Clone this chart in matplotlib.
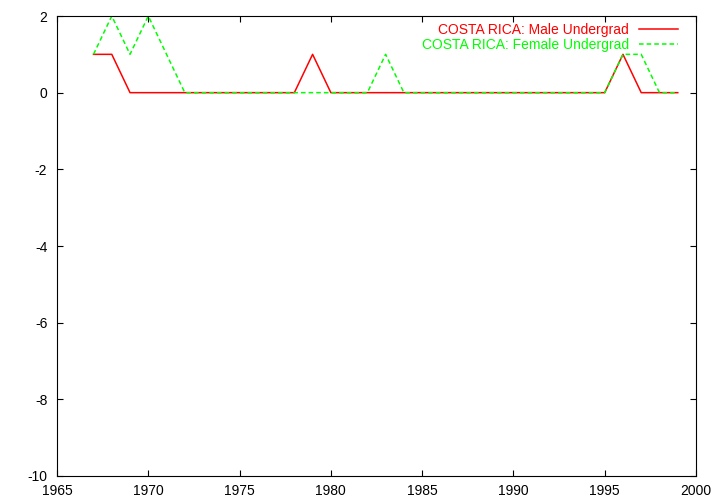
import matplotlib
matplotlib.use("Agg")
from matplotlib import pyplot as plt
from matplotlib.ticker import FuncFormatter

# values
years = list(range(1967, 2000))
male = [1, 1, 0, 0, 0, 0, 0, 0, 0, 0, 0, 0, 1, 0, 0, 0, 0, 0, 0, 0,
        0, 0, 0, 0, 0, 0, 0, 0, 0, 1, 0, 0, 0]
female = [1, 2, 1, 2, 1, 0, 0, 0, 0, 0, 0, 0, 0, 0, 0, 0, 1, 0, 0, 0,
          0, 0, 0, 0, 0, 0, 0, 0, 0, 1, 1, 0, 0]
xticks = list(range(1965, 2001, 5))
yticks = list(range(-10, 3, 2))

plt.rcParams['font.family'] = ['Liberation Sans', 'DejaVu Sans']
plt.rcParams['font.size'] = 10

fig = plt.figure(figsize=(7.2, 5.04), dpi=100)
ax = fig.add_axes([57 / 720, 1 - 476 / 504, (696 - 57) / 720, (476 - 16) / 504])

ax.plot(years, male, color='#ff0000', lw=1.1, label='COSTA RICA: Male Undergrad')
ax.plot(years, female, color='#00ff00', lw=1.1, dashes=(3, 2),
        label='COSTA RICA: Female Undergrad')

ax.set_xlim(1965, 2000)
ax.set_ylim(-10, 2)
ax.set_xticks(xticks)
ax.set_yticks(yticks)
# gnuplot style: plain hyphen for negatives
ax.yaxis.set_major_formatter(FuncFormatter(lambda v, p: '%d' % v))
ax.tick_params(direction='in', top=True, right=True, length=4, width=0.8)
ax.tick_params(axis='x', pad=6)
ax.tick_params(axis='y', pad=7)
for s in ax.spines.values():
    s.set_linewidth(0.8)

ax.legend(loc='upper right', bbox_to_anchor=(1 - 11 / 639, 1), frameon=False,
          markerfirst=False, labelcolor='linecolor',
          handlelength=2.8, handletextpad=0.75, borderaxespad=0.1, labelspacing=0.05,
          fontsize=10)

fig.savefig('out.png', dpi=100)
